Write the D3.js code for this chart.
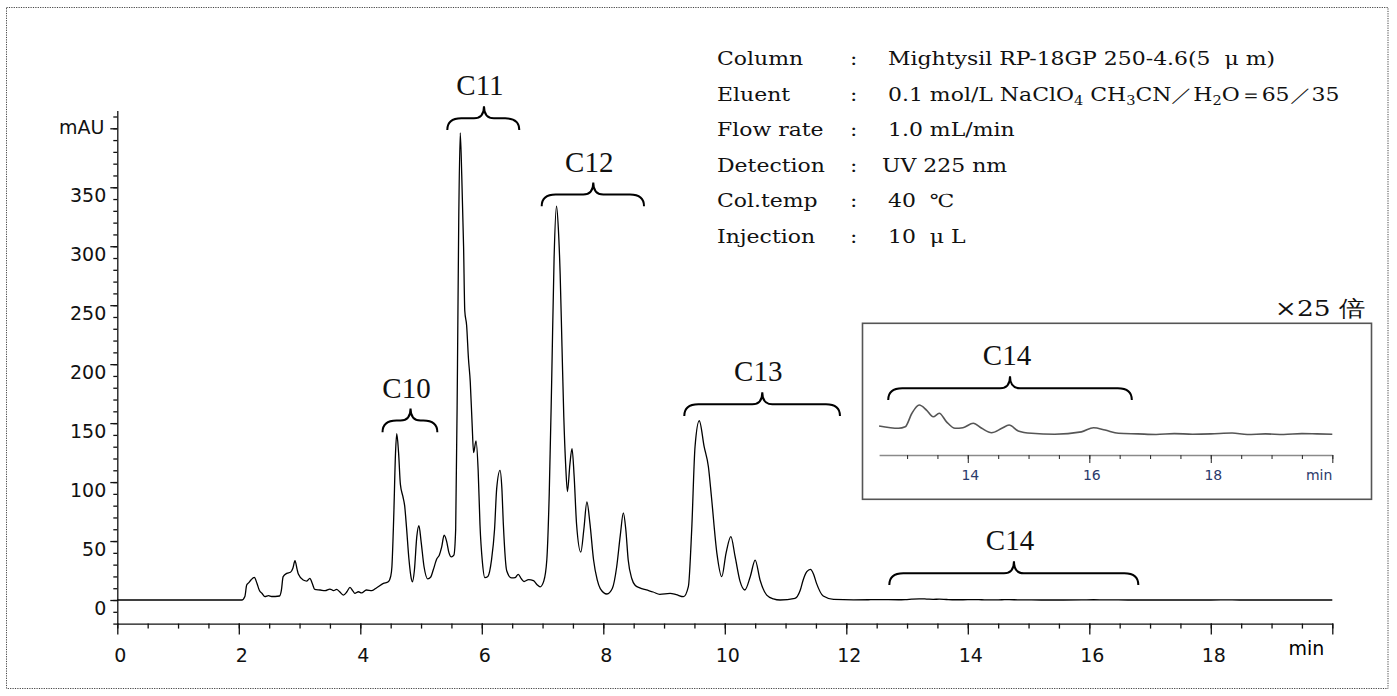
<!DOCTYPE html>
<html lang="ja">
<head>
<meta charset="UTF-8">
<title>HPLC chromatogram</title>
<style>
  body { margin: 0; background: #fff; }
  text { white-space: pre; }
  .axis path, .axis line { stroke: #111; stroke-width: 1.3; }
  .axis text { font-family: "DejaVu Sans", sans-serif; font-size: 19px; fill: #111; }
  .inset-axis path { stroke: #8a8a8a; stroke-width: 1.3; }
  .inset-axis line { stroke: #333; stroke-width: 1.1; }
  .inset-axis text { font-family: "DejaVu Sans", sans-serif; font-size: 14px; fill: #2b3a6b; }
  .cond { font-family: "DejaVu Serif", serif; font-size: 18px; fill: #111; }
  .group-label { font-family: "Liberation Serif", serif; font-size: 29px; fill: #111; }
</style>
</head>
<body>
<div id="chart"></div>

<script src="https://d3js.org/d3.v7.min.js"></script>
<script>
// retention time (min) and absorbance (mAU)
const times = [0, 2.05, 2.10, 2.13, 2.16, 2.20, 2.255, 2.30, 2.34, 2.38, 2.43, 2.49, 2.54, 2.60, 2.67,
  2.70, 2.73, 2.79, 2.85, 2.89, 2.925, 2.96, 2.98, 3.06, 3.12, 3.17, 3.21, 3.25, 3.34, 3.42, 3.50,
  3.56, 3.61, 3.66, 3.72, 3.78, 3.83, 3.88, 3.91, 3.97, 4.02, 4.10, 4.19, 4.27, 4.38, 4.46, 4.50,
  4.52, 4.55, 4.58, 4.60, 4.63, 4.66, 4.70, 4.73, 4.76, 4.80, 4.84, 4.86, 4.89, 4.93, 4.965, 5.00,
  5.05, 5.11, 5.16, 5.20, 5.26, 5.30, 5.34, 5.38, 5.42, 5.46, 5.50, 5.54, 5.57, 5.60, 5.62, 5.645,
  5.67, 5.70, 5.72, 5.75, 5.78, 5.81, 5.84, 5.865, 5.905, 5.94, 5.97, 6.01, 6.05, 6.10, 6.16, 6.21,
  6.245, 6.30, 6.33, 6.355, 6.41, 6.49, 6.55, 6.60, 6.65, 6.695, 6.77, 6.85, 6.91, 6.96, 7.02, 7.07,
  7.11, 7.15, 7.19, 7.23, 7.26, 7.29, 7.32, 7.35, 7.38, 7.41, 7.45, 7.485, 7.52, 7.56, 7.63, 7.68,
  7.73, 7.78, 7.84, 7.90, 7.95, 8.06, 8.15, 8.22, 8.28, 8.33, 8.37, 8.41, 8.47, 8.52, 8.60, 8.71,
  8.82, 8.93, 9.10, 9.20, 9.32, 9.40, 9.455, 9.51, 9.58, 9.66, 9.73, 9.78, 9.87, 9.95, 10.02, 10.10,
  10.17, 10.25, 10.33, 10.42, 10.50, 10.58, 10.69, 10.80, 10.91, 11.155, 11.24, 11.29, 11.35, 11.41,
  11.46, 11.51, 11.62, 11.79, 12.12, 12.40, 12.54, 12.86, 12.97, 13.08, 13.20, 13.32, 13.43, 13.53,
  13.65, 13.79, 13.92, 14.09, 14.23, 14.39, 14.56, 14.68, 14.83, 15.05, 15.43, 15.87, 16.07, 16.26,
  16.48, 16.8, 17.1, 17.4, 17.7, 18.0, 18.35, 18.6, 18.9, 19.2, 19.5, 19.75, 20];
const mau = [0, 0, 3, 12.7, 14.5, 17, 19.2, 14, 8, 5.7, 2.8, 3.7, 3.0, 3.0, 3.4,
  8, 19.8, 22.6, 23.5, 27, 33.3, 26, 22, 17, 16.1, 18.4, 14, 9, 8.5, 7.9, 9.3,
  8, 9, 7, 4.2, 7, 10.7, 7.5, 5.7, 7, 6, 8.5, 8, 10.4, 14.1, 15.5, 20,
  28, 70, 125, 141, 125, 98, 88, 80, 62, 35, 18, 15.5, 25, 53.7, 63, 50,
  28, 18, 19.5, 25.4, 35, 38, 45, 55, 50, 40, 36.5, 38, 60, 200, 320, 396,
  360, 300, 245, 233, 205, 185, 150, 125, 135, 110, 64, 32, 19, 20, 34, 60,
  94.5, 110, 95, 64, 24.8, 18.7, 19, 21.8, 18, 15.7, 17.3, 16.4, 13, 11.2, 16, 33.9,
  90, 185, 290, 334, 315, 276, 215, 155, 115, 92, 115, 128.4, 105, 64.2, 40.6, 60,
  83.3, 65, 33.9, 17, 9.7, 5.1, 10, 28, 55, 73.9, 60, 33.9, 18, 12.7, 10.3, 8.5,
  6.8, 4.8, 5.6, 4.5, 2.8, 11.3, 59.4, 130, 152, 130, 113, 87.6, 39.6, 19.8, 39.6, 53.7,
  36.7, 16, 8.5, 20, 33.9, 17, 4.2, 1, 0, 1.4, 8, 17, 24, 26,
  22, 14.1, 3.4, 0.6, 0.2, 0.25, 0.29, 0.21, 0.26, 0.72, 1.0, 0.83, 0.60, 0.72,
  0.43, 0.21, 0.23, 0.38, 0.21, 0.06, 0.21, 0.32, 0.12, 0.04, 0.01, 0.09, 0.23, 0.15,
  0.04, 0.02, 0.0, 0.03, 0.01, 0.02, 0.05, 0.0, 0.02, 0.0, 0.03, 0.02, 0.01];

// peak groups (carbon number) and the time span each brace covers, min
const groupNames = ["C10", "C11", "C12", "C13", "C14"];
const groupStart = [4.366, 5.432, 6.986, 9.333, 12.708];
const groupEnd   = [5.268, 6.617, 8.67, 11.896, 16.807];
const groupMid   = [4.827, 6.036, 7.835, 10.617, 14.76];

// axis ticks
const xTicks = [0, 2, 4, 6, 8, 10, 12, 14, 16, 18, 20];
const yTicks = [0, 50, 100, 150, 200, 250, 300, 350, 400];
const insetTicks = [14, 16, 18, 20];
const magnification = 25;

// analysis conditions
const condLabels = ["Column", "Eluent", "Flow rate", "Detection", "Col.temp", "Injection"];
const condValues = ["Mightysil RP-18GP 250-4.6(5  μ m)",
  "0.1 mol/L NaClO_4 CH_3CN／H_2O＝65／35",
  "1.0 mL/min", "UV 225 nm", "40  ℃", "10  μ L"];

const W = 1397, H = 696;

const svg = d3.select("#chart")
  .append("svg")
    .attr("width", W)
    .attr("height", H);

// dotted frame
svg.append("rect")
  .attr("x", 6.5).attr("y", 7.5)
  .attr("width", 1381.5).attr("height", 681)
  .attr("fill", "none")
  .attr("stroke", "#444")
  .attr("stroke-dasharray", "1.2,1.2");

const x = d3.scaleLinear().domain([0, 20]).range([117.3, 1332.3]);
const y = d3.scaleLinear().domain([-20, 415]).range([623.6, 110.6]);

// X axis
svg.append("g")
  .attr("class", "axis")
  .attr("transform", `translate(0,${y(-20)})`)
  .call(d3.axisBottom(x).tickValues(d3.range(0, 20.01, 0.5)).tickSize(5).tickSizeOuter(0).tickFormat(""));
const xAxis = svg.append("g")
  .attr("class", "axis")
  .attr("transform", `translate(0,${y(-20)})`)
  .call(d3.axisBottom(x).tickValues(xTicks).tickSize(11).tickSizeOuter(0)
    .tickFormat(d => d === 20 ? "" : d));
xAxis.selectAll("text").attr("dy", null).attr("y", 38.7).attr("x", 2.5);
xAxis.select(".domain").remove();

svg.append("text")
  .attr("x", x(20) - 8).attr("y", 655)
  .attr("text-anchor", "end")
  .style("font-family", "DejaVu Sans, sans-serif")
  .style("font-size", "19px")
  .text("min");

// Y axis
svg.append("g")
  .attr("class", "axis")
  .attr("transform", `translate(${x(0)},0)`)
  .call(d3.axisLeft(y).tickValues(d3.range(-20, 411, 10)).tickSize(4).tickSizeOuter(0).tickFormat(""));
const yAxis = svg.append("g")
  .attr("class", "axis")
  .attr("transform", `translate(${x(0)},0)`)
  .call(d3.axisLeft(y).tickValues(yTicks).tickSize(7).tickSizeOuter(0)
    .tickFormat(d => d === 400 ? "mAU" : d));
yAxis.select(".domain").remove();
yAxis.selectAll("text")
  .attr("dy", null)
  .attr("x", d => d === 400 ? -13 : -11)
  .attr("y", d => d === 400 ? 5.7 : 14.5);

// chromatogram trace
const series = times.map((t, i) => ({t: t, v: mau[i]}));
const line = d3.line()
  .x(d => x(d.t))
  .y(d => y(d.v))
  .curve(d3.curveMonotoneX);

svg.append("path")
  .datum(series)
  .attr("fill", "none")
  .attr("stroke", "#000")
  .attr("stroke-width", 1.3)
  .attr("d", line);

// curly brace helper
function bracePath(x0, x1, xm, yh) {
  const drop = 11.7, spike = 12, r = 14;
  return `M${x0},${yh + drop} Q${x0},${yh} ${x0 + r},${yh} L${xm - 10},${yh} ` +
    `Q${xm},${yh} ${xm},${yh - spike} Q${xm},${yh} ${xm + 10},${yh} ` +
    `L${x1 - r},${yh} Q${x1},${yh} ${x1},${yh + drop}`;
}

// brace heights above the trace (mAU)
const braceLevel = [152.2, 408.5, 343.8, 166, 22.6];

groupNames.forEach((name, i) => {
  const yh = y(braceLevel[i]);
  svg.append("path")
    .attr("d", bracePath(x(groupStart[i]), x(groupEnd[i]), x(groupMid[i]), yh))
    .attr("fill", "none")
    .attr("stroke", "#000")
    .attr("stroke-width", 2);
  svg.append("text")
    .attr("class", "group-label")
    .attr("x", x(groupMid[i]) - 4)
    .attr("y", yh - 23)
    .attr("text-anchor", "middle")
    .text(name);
});

// conditions block
const condY = [65, 100.7, 136.3, 172, 207.3, 243.3];
const stretch = 1.22;
condLabels.forEach((lab, i) => {
  svg.append("text").attr("class", "cond")
    .attr("transform", `translate(717,${condY[i]}) scale(${stretch},1)`)
    .text(lab);
  svg.append("text").attr("class", "cond")
    .attr("transform", `translate(850,${condY[i]}) scale(${stretch},1)`)
    .text(":");
  const t = svg.append("text").attr("class", "cond")
    .attr("transform", `translate(${lab === "Detection" ? 882 : 888},${condY[i]}) scale(${stretch},1)`);
  // "_n" marks a subscript digit
  let shifted = false;
  condValues[i].split(/(_\d)/).forEach(part => {
    if (!part) return;
    if (part.startsWith("_")) {
      t.append("tspan").attr("dy", 4).style("font-size", "12px").text(part.slice(1));
      shifted = true;
    } else {
      t.append("tspan").attr("dy", shifted ? -4 : null).text(part);
      shifted = false;
    }
  });
});

// inset, x25 vertical magnification
const insetBox = {x: 862.5, y: 323.3, w: 509, h: 176};
svg.append("rect")
  .attr("x", insetBox.x).attr("y", insetBox.y)
  .attr("width", insetBox.w).attr("height", insetBox.h)
  .attr("fill", "#fff")
  .attr("stroke", "#555")
  .attr("stroke-width", 1.6);

svg.append("text")
  .attr("class", "cond")
  .attr("text-anchor", "end")
  .attr("transform", `translate(1365,316) scale(1.2,1)`)
  .style("font-size", "22px")
  .text("×25 倍");

const xIn = d3.scaleLinear().domain([12.54, 20]).range([x(12.54), x(20)]);
const pxPerUnit = y(0) - y(1);
const yIn = d3.scaleLinear().domain([0, 1]).range([434.5, 434.5 - magnification * pxPerUnit]);

svg.append("g")
  .attr("class", "inset-axis")
  .attr("transform", "translate(0,455)")
  .call(d3.axisBottom(xIn).tickValues(d3.range(13, 20.01, 0.5)).tickSize(4).tickSizeOuter(0).tickFormat(""));
const inAxis = svg.append("g")
  .attr("class", "inset-axis")
  .attr("transform", "translate(0,455)")
  .call(d3.axisBottom(xIn).tickValues(insetTicks).tickSize(8).tickSizeOuter(0)
    .tickFormat(d => d === 20 ? "" : d));
inAxis.select(".domain").remove();
inAxis.selectAll("text").attr("dy", null).attr("y", 25).attr("x", 2);

svg.append("text")
  .attr("x", xIn(20)).attr("y", 480)
  .attr("text-anchor", "end")
  .style("font-family", "DejaVu Sans, sans-serif")
  .style("font-size", "14px")
  .style("fill", "#2b3a6b")
  .text("min");

const insetLine = d3.line()
  .x(d => xIn(d.t))
  .y(d => yIn(d.v))
  .curve(d3.curveMonotoneX);

svg.append("path")
  .datum(series.filter(d => d.t >= 12.54))
  .attr("fill", "none")
  .attr("stroke", "#555")
  .attr("stroke-width", 1.6)
  .attr("d", insetLine);

// C14 brace inside inset
const inLevel = yIn(1.566);
svg.append("path")
  .attr("d", bracePath(xIn(12.69), xIn(16.70), xIn(14.695), inLevel))
  .attr("fill", "none")
  .attr("stroke", "#000")
  .attr("stroke-width", 2);
svg.append("text")
  .attr("class", "group-label")
  .attr("x", xIn(14.695) - 3)
  .attr("y", 365)
  .attr("text-anchor", "middle")
  .text("C14");
</script>
</body>
</html>
